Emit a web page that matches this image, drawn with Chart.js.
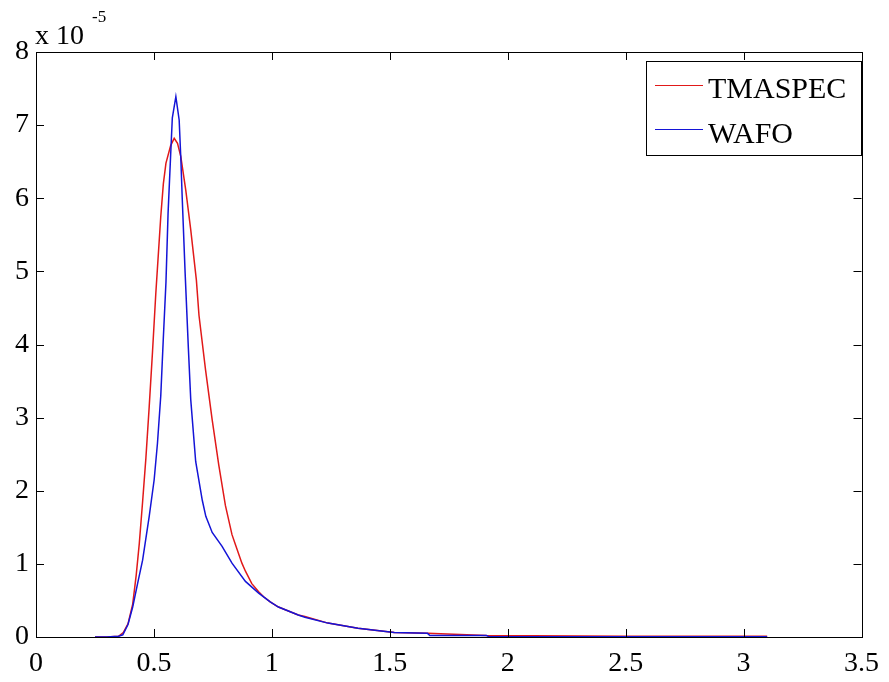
<!DOCTYPE html>
<html>
<head>
<meta charset="utf-8">
<script src="https://cdn.jsdelivr.net/npm/chart.js@4/dist/chart.umd.min.js"></script>
<style>
html,body{margin:0;padding:0;background:#fff;}
#wrap{width:889px;height:682px;}
</style>
</head>
<body>
<div id="wrap"><canvas id="c" width="889" height="682"></canvas></div>
<script>
// Values in units of 1e-5
const tmaspecX = [0.25,0.30,0.35,0.37,0.39,0.41,0.425,0.438,0.452,0.466,0.480,0.494,0.508,0.519,0.529,0.540,0.551,0.571,0.586,0.600,0.614,0.635,0.656,0.680,0.691,0.719,0.747,0.775,0.803,0.831,0.845,0.873,0.888,0.915,0.944,0.965,0.993,1.028,1.112,1.140,1.238,1.365,1.519,1.66,1.91,2.5,3.1];
const tmaspecY = [0,0,0.01,0.06,0.18,0.45,0.85,1.28,1.85,2.45,3.15,3.90,4.70,5.25,5.75,6.20,6.48,6.72,6.82,6.75,6.57,6.11,5.57,4.88,4.40,3.65,2.97,2.35,1.80,1.40,1.27,1.01,0.90,0.73,0.62,0.55,0.48,0.41,0.30,0.28,0.19,0.12,0.06,0.05,0.02,0.01,0.01];
const wafoX = [0.25,0.30,0.35,0.368,0.39,0.41,0.43,0.452,0.48,0.501,0.515,0.529,0.540,0.551,0.560,0.571,0.578,0.593,0.607,0.614,0.620,0.632,0.646,0.656,0.677,0.705,0.720,0.747,0.789,0.831,0.888,0.944,0.993,1.028,1.112,1.140,1.238,1.365,1.519,1.66,1.67,1.91,1.92,3.1];
const wafoY = [0,0,0.01,0.03,0.17,0.41,0.72,1.05,1.65,2.15,2.65,3.30,4.10,4.85,5.80,6.60,7.10,7.39,7.07,6.55,6.00,5.00,3.95,3.25,2.40,1.87,1.65,1.43,1.24,1.01,0.76,0.60,0.48,0.41,0.30,0.27,0.19,0.12,0.06,0.05,0.02,0.02,0.005,0.005];
const xTicks = [0,0.5,1,1.5,2,2.5,3,3.5];
const yTicks = [0,1,2,3,4,5,6,7,8];
const seriesNames = ["TMASPEC","WAFO"];
const seriesColors = ["rgb(225,25,25)","rgb(20,20,215)"];

const toPts = (xs, ys) => xs.map((x, i) => ({x: x, y: ys[i]}));

const SERIF = "'Liberation Serif','Times New Roman',serif";

const framePlugin = {
  id: 'frame',
  afterDatasetsDraw(chart) {
    const ctx = chart.ctx;
    const a = chart.chartArea;
    const xs = chart.scales.x, ys = chart.scales.y;
    ctx.save();
    ctx.strokeStyle = '#000';
    ctx.lineWidth = 1;
    ctx.strokeRect(Math.round(a.left)+0.5, Math.round(a.top)+0.5, Math.round(a.right-a.left), Math.round(a.bottom-a.top));
    const tl = 8;
    ctx.beginPath();
    xTicks.forEach(v => {
      const p = Math.round(xs.getPixelForValue(v)) + 0.5;
      ctx.moveTo(p, a.bottom); ctx.lineTo(p, a.bottom - tl);
      ctx.moveTo(p, a.top); ctx.lineTo(p, a.top + tl);
    });
    yTicks.forEach(v => {
      const p = Math.round(ys.getPixelForValue(v)) + 0.5;
      ctx.moveTo(a.left, p); ctx.lineTo(a.left + tl, p);
      ctx.moveTo(a.right, p); ctx.lineTo(a.right - tl, p);
    });
    ctx.stroke();
    ctx.fillStyle = '#000';
    ctx.textBaseline = 'alphabetic';
    ctx.textAlign = 'left';
    ctx.font = '28px ' + SERIF;
    ctx.fillText('x 10', 35, 44);
    ctx.font = '17px ' + SERIF;
    ctx.fillText('-5', 92, 22);
    const lx = 646, ly = 61, lw = 215, lh = 94;
    ctx.fillStyle = '#fff';
    ctx.fillRect(lx, ly, lw, lh);
    ctx.strokeRect(lx + 0.5, ly + 0.5, lw, lh);
    const rows = [85, 129];
    const bases = [98, 143];
    chart.data.datasets.forEach((ds, i) => {
      ctx.strokeStyle = ds.borderColor;
      ctx.lineWidth = 1.2;
      ctx.beginPath();
      ctx.moveTo(655, rows[i] + 0.5); ctx.lineTo(703, rows[i] + 0.5);
      ctx.stroke();
      ctx.fillStyle = '#000';
      ctx.font = '30px ' + SERIF;
      ctx.fillText(ds.label, 708, bases[i]);
    });
    ctx.restore();
  }
};

new Chart(document.getElementById('c'), {
  type: 'line',
  data: {
    datasets: [
      { label: seriesNames[0], data: toPts(tmaspecX, tmaspecY), borderColor: seriesColors[0], borderWidth: 1.5, pointRadius: 0, tension: 0, fill: false, order: 1 },
      { label: seriesNames[1], data: toPts(wafoX, wafoY), borderColor: seriesColors[1], borderWidth: 1.5, pointRadius: 0, tension: 0, fill: false, order: 0 }
    ]
  },
  options: {
    responsive: false,
    animation: false,
    devicePixelRatio: 1,
    layout: { padding: { top: 52, right: 22, left: 0, bottom: 0 } },
    plugins: { legend: { display: false }, tooltip: { enabled: false } },
    scales: {
      x: {
        type: 'linear', min: 0, max: 3.5,
        grid: { display: false, drawTicks: false },
        border: { display: false },
        afterBuildTicks: s => { s.ticks = xTicks.map(v => ({value: v})); },
        afterFit: s => { s.height = 45; },
        ticks: { color: '#000', font: { family: SERIF, size: 28 }, padding: 10, maxRotation: 0, autoSkip: false, callback: v => String(v) }
      },
      y: {
        type: 'linear', min: 0, max: 8,
        grid: { display: false, drawTicks: false },
        border: { display: false },
        afterBuildTicks: s => { s.ticks = yTicks.map(v => ({value: v})); },
        afterFit: s => { s.width = 36; },
        ticks: { color: '#000', font: { family: SERIF, size: 28 }, padding: 7, autoSkip: false, callback: v => String(v) }
      }
    }
  },
  plugins: [framePlugin]
});
</script>
</body>
</html>
